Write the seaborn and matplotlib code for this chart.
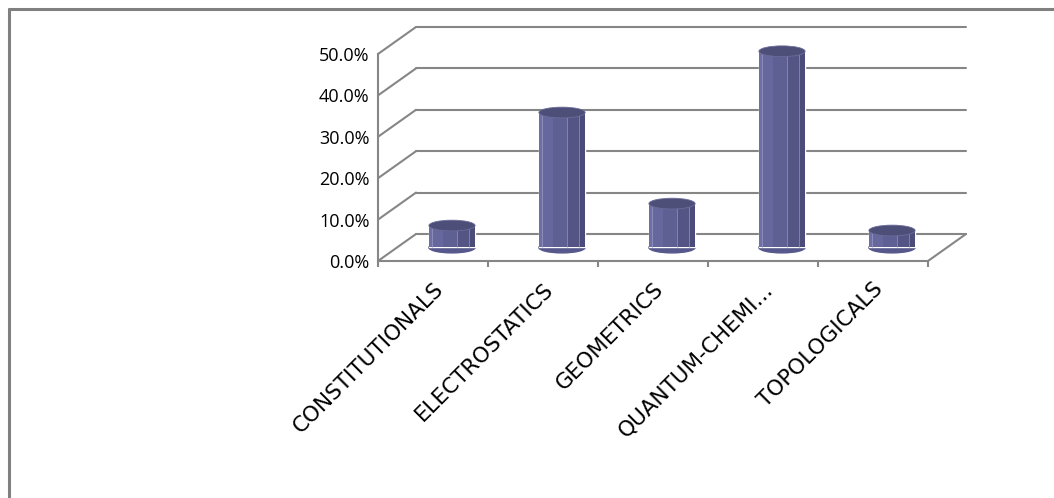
import numpy as np
import pandas as pd
import matplotlib
matplotlib.use("Agg")
import matplotlib.pyplot as plt
import matplotlib.transforms as mtransforms
from matplotlib.lines import Line2D
from matplotlib.patches import Rectangle, Ellipse
import seaborn as sns

# ── data ────────────────────────────────────────────────
categories = ["CONSTITUTIONALS", "ELECTROSTATICS", "GEOMETRICS",
              "QUANTUM-CHEMI...", "TOPOLOGICALS"]
shares = [0.053, 0.326, 0.106, 0.474, 0.041]
yticks = [0.0, 0.1, 0.2, 0.3, 0.4, 0.5]

sns.set_theme(style="white")
plt.rcParams["font.family"] = ["Open Sans", "DejaVu Sans"]

GRID = "#868686"
BODY = "#606196"
DPI = 100
DX, DY = 38, 27          # depth of the fake 3d box, in pixels

fig = plt.figure(figsize=(10.54, 4.98), dpi=DPI)
ax = fig.add_axes([378 / 1054, 1 - 261 / 498, 550 / 1054, 207 / 498])

df = pd.DataFrame({"cat": categories, "val": shares})
sns.barplot(data=df, x="cat", y="val", color=BODY, width=0.42,
            saturation=1, ax=ax, zorder=5)
ax.set_xlim(-0.5, 4.5)
ax.set_ylim(0, 0.5)
ax.set_xlabel(""); ax.set_ylabel("")

# back wall / floor
back = mtransforms.offset_copy(ax.transData, fig=fig, x=DX, y=DY, units="dots")
mid = mtransforms.offset_copy(ax.transData, fig=fig, x=DX / 2, y=DY / 2, units="dots")
ident = mtransforms.IdentityTransform()

for t in yticks:
    ax.plot([-0.5, 4.5], [t, t], color=GRID, lw=1.5, transform=back,
            clip_on=False, zorder=1)
    p = ax.transData.transform((-0.5, t))
    fig.add_artist(Line2D([p[0], p[0] + DX], [p[1], p[1] + DY], color=GRID,
                          lw=1.5, transform=ident, zorder=1))
p = ax.transData.transform((4.5, 0))
fig.add_artist(Line2D([p[0], p[0] + DX], [p[1], p[1] + DY], color=GRID,
                      lw=1.5, transform=ident, zorder=1))

# cylinders: move bars to mid depth and shade them
stripes = [(0.00, 0.08, "#6e6fa5"), (0.08, 0.30, "#66679c"),
           (0.30, 0.60, "#5e5f93"), (0.60, 0.86, "#545585"),
           (0.86, 1.00, "#4b4c7a")]
for bar in ax.patches[:len(shares)]:
    bar.set_transform(mid)
    bar.set_clip_on(False)
    x0, w, h = bar.get_x(), bar.get_width(), bar.get_height()
    eh = 0.026
    ax.add_patch(Ellipse((x0 + w / 2, 0), w, eh, color="#56578b",
                         transform=mid, clip_on=False, zorder=4))
    for a, b, c in stripes:
        ax.add_patch(Rectangle((x0 + a * w, 0), (b - a) * w, h, color=c,
                               lw=0, transform=mid, clip_on=False, zorder=6))
    for f in (0.07, 0.60, 0.86):
        ax.plot([x0 + f * w] * 2, [0, h], color="#9899c4", lw=0.6,
                alpha=0.8, transform=mid, clip_on=False, zorder=7)
    ax.add_patch(Ellipse((x0 + w / 2, h), w, eh, facecolor="#4e4f78",
                         edgecolor="#6b6c9a", lw=0.6, transform=mid,
                         clip_on=False, zorder=8))

# axes styling
for s in ["top", "right"]:
    ax.spines[s].set_visible(False)
for s in ["left", "bottom"]:
    ax.spines[s].set_color(GRID)
    ax.spines[s].set_linewidth(1.5)
ax.set_yticks(yticks)
ax.set_yticklabels([f"{t:.1%}" for t in yticks], fontsize=13, color="black")
ax.tick_params(axis="y", length=4, width=1.5, color=GRID, pad=2)
ax.set_xticks(range(len(categories)))
ax.set_xticklabels(categories, rotation=45, ha="right",
                   rotation_mode="anchor", fontsize=15.5, color="black",
                   family=["DejaVu Sans"])
ax.set_xticks(np.arange(-0.5, 5), minor=True)
ax.tick_params(axis="x", which="major", length=0, pad=13)
ax.tick_params(axis="x", which="minor", length=4, width=1.5, color=GRID,
               bottom=True)
ax.patch.set_alpha(0)

# chart frame (left and top edges visible)
fig.add_artist(Line2D([8.5 / 1054] * 2, [0, 1 - 9.5 / 498], color="#808080",
                      lw=2.2, transform=fig.transFigure))
fig.add_artist(Line2D([8.5 / 1054, 1], [1 - 9.5 / 498] * 2, color="#808080",
                      lw=2.2, transform=fig.transFigure))

fig.savefig("out.png", dpi=DPI)
